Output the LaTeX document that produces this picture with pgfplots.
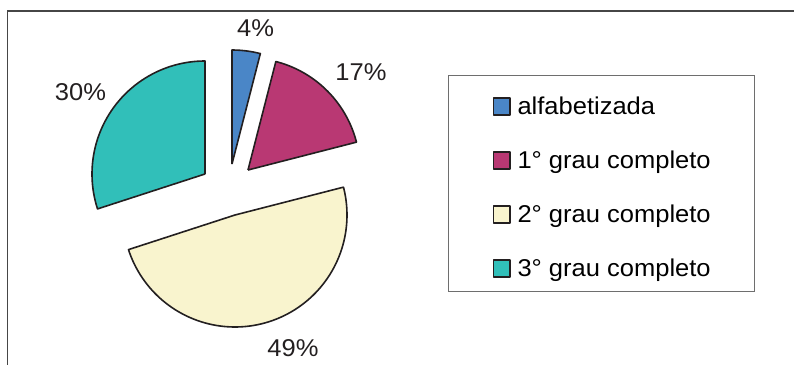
\documentclass[border=0pt]{standalone}
\usepackage{pgfplots}
\pgfplotsset{compat=1.18}
\usepackage{fontspec}
\setmainfont{Liberation Sans}[FakeStretch=1.05]
\definecolor{cblue}{RGB}{74,134,199}
\definecolor{cmag}{RGB}{185,56,115}
\definecolor{ccream}{RGB}{249,244,206}
\definecolor{cteal}{RGB}{49,191,185}
\definecolor{edge}{RGB}{35,31,32}
\definecolor{framegray}{RGB}{70,70,70}
\definecolor{leggray}{RGB}{110,110,110}
\begin{document}
\begin{tikzpicture}
\useasboundingbox (0,0) rectangle (794pt,365pt);
\begin{axis}[at={(0,0)}, anchor=south west, scale only axis,
  width=794pt, height=365pt,
  xmin=0, xmax=794, ymin=0, ymax=365,
  hide axis, clip=false,
  font=\fontsize{24.3}{28}\selectfont,
  legend image code/.code={\draw[#1, line width=1.6pt] (0pt,-0.5pt) rectangle (16.2pt,16.5pt);},
  legend style={at={(0.5642,0.2)}, anchor=south west,
    draw=leggray, line width=1.5pt, inner xsep=44pt, inner ysep=0pt,
    row sep=0pt, column sep=7pt,
    font=\fontsize{24.3}{28}\selectfont,
    nodes={inner sep=0pt, text height=39pt, text depth=15pt, anchor=base west}},
  every axis plot/.append style={draw=edge, line width=1.6pt, line join=round}
]
% 4 %  (angles 90 -> 75.6)
\addplot[fill=cblue, samples at={-1000,75.6,77.6,...,89.6,90,-1000}]
  ({232+(x>-999)*114*cos(x)},{201+(x>-999)*114*sin(x)});
\addlegendentry{alfabetizada}
% 17 %  (75.6 -> 14.4)
\addplot[fill=cmag, samples at={-1000,14.4,16.4,...,74.4,75.6,-1000}]
  ({248+(x>-999)*112*cos(x)},{195+(x>-999)*112*sin(x)});
\addlegendentry{1° grau completo}
% 49 %  (14.4 -> -162)
\addplot[fill=ccream, samples at={-1000,-162,-160,...,14,14.4,-1000}]
  ({235+(x>-999)*112*cos(x)},{150+(x>-999)*112*sin(x)});
\addlegendentry{2° grau completo}
% 30 %  (90 -> 198)
\addplot[fill=cteal, samples at={-1000,90,92,...,198,-1000}]
  ({205+(x>-999)*113*cos(x)},{191+(x>-999)*113*sin(x)});
\addlegendentry{3° grau completo}

\draw[framegray, line width=1.5pt] (axis cs:794,354) -- (axis cs:7.5,354) -- (axis cs:7.5,0);

\node[inner sep=0pt, text=edge] at (axis cs:255.5,336.5) {4\%};
\node[inner sep=0pt, text=edge] at (axis cs:361,292.5) {17\%};
\node[inner sep=0pt, text=edge] at (axis cs:80.5,272.5) {30\%};
\node[inner sep=0pt, text=edge] at (axis cs:293,16.5) {49\%};
\end{axis}
\end{tikzpicture}
\end{document}
